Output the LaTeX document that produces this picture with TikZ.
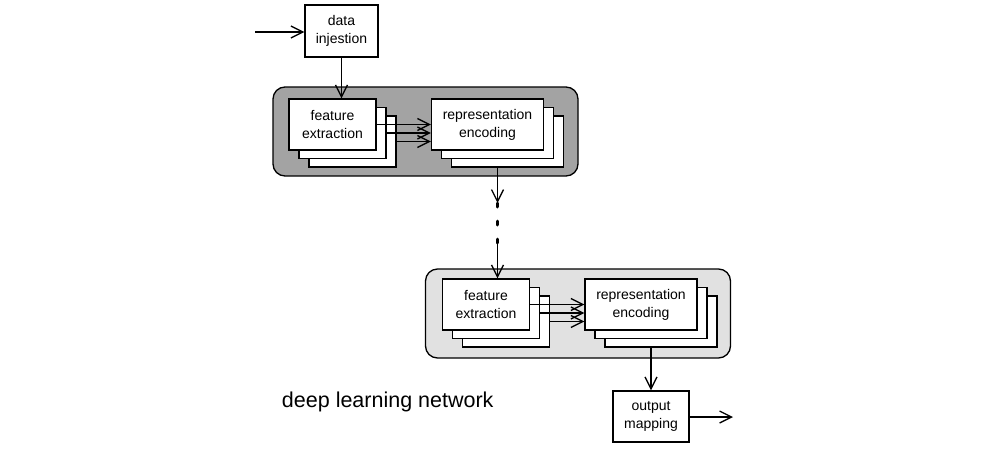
\documentclass[tikz,border=0pt]{standalone}
\usepackage{fontspec}
\setmainfont{Liberation Sans}
\usetikzlibrary{arrows.meta}

\begin{document}
\begin{tikzpicture}[x=1pt, y=-1pt, line width=1.3pt,
  box/.style = {draw, fill=white, inner sep=0pt, align=center, font=\fontsize{14}{18}\selectfont},
  fe/.style = {box, minimum width=87pt, minimum height=51pt},
  re/.style = {box, minimum width=112pt, minimum height=51pt},
  grp/.style = {draw, rounded corners=12pt, minimum width=305pt, minimum height=89pt},
  arr/.style = {-{Straight Barb[length=12pt,width=12pt]}}]
\useasboundingbox (0,0) rectangle (1000,450);
% upper stage
\node[grp, fill={rgb,255:red,163;green,163;blue,163}] (grpA) at (425.5,131.5) {};
\node[fe] (fe3) at (352.5,141.5) {};
\node[fe] (fe2) at (342.5,133) {};
\node[fe] (fe1) at (332.5,124.5) {feature\\extraction};
\node[re] (re3) at (507.5,141.5) {};
\node[re] (re2) at (497.5,133) {};
\node[re] (re1) at (487.5,124.5) {representation\\encoding};
% lower stage
\node[grp, fill={rgb,255:red,225;green,225;blue,225}] (grpB) at (578,313.5) {};
\node[fe] (feb3) at (506,321.5) {};
\node[fe] (feb2) at (496,313) {};
\node[fe] (feb1) at (486,304.5) {feature\\extraction};
\node[re] (reb3) at (661,321.5) {};
\node[re] (reb2) at (651,313) {};
\node[re] (reb1) at (641,304.5) {representation\\encoding};
% input and output
\node[box, minimum width=73pt, minimum height=52pt] (inj) at (341.5,31) {data\\injestion};
\node[box, minimum width=76pt, minimum height=51pt] (out) at (651,416.5) {output\\mapping};
\node[anchor=base west, font=\fontsize{21.5}{24}\selectfont] (lbl) at (278,407) {deep learning network};
\coordinate (in) at (255,32);
\coordinate (end) at (733,417);
\coordinate (gapA) at (497.5,203);
\coordinate (gapB) at (497.5,243);
% connectors
\draw[arr] (in) -- (inj.west |- in);
\draw[arr] (inj.south) -- (inj.south |- fe1.north);
\draw[arr] (fe1.east) -- (re1.west);
\draw[arr] (fe2.east) -- (fe2.east -| re1.west);
\draw[arr] (fe3.east) -- (fe3.east -| re1.west);
\draw[arr] (re2.south |- re3.south) -- (gapA);
\draw[line width=3pt, line cap=round, dash pattern=on 4pt off 14pt] (gapA) -- (gapB);
\draw[arr] (gapB) -- (gapB |- feb1.north);
\draw[arr] (feb1.east) -- (reb1.west);
\draw[arr] (feb2.east) -- (feb2.east -| reb1.west);
\draw[arr] (feb3.east) -- (feb3.east -| reb1.west);
\draw[arr] (out.north |- reb3.south) -- (out.north);
\draw[arr] (out.east |- end) -- (end);
\end{tikzpicture}
\end{document}
